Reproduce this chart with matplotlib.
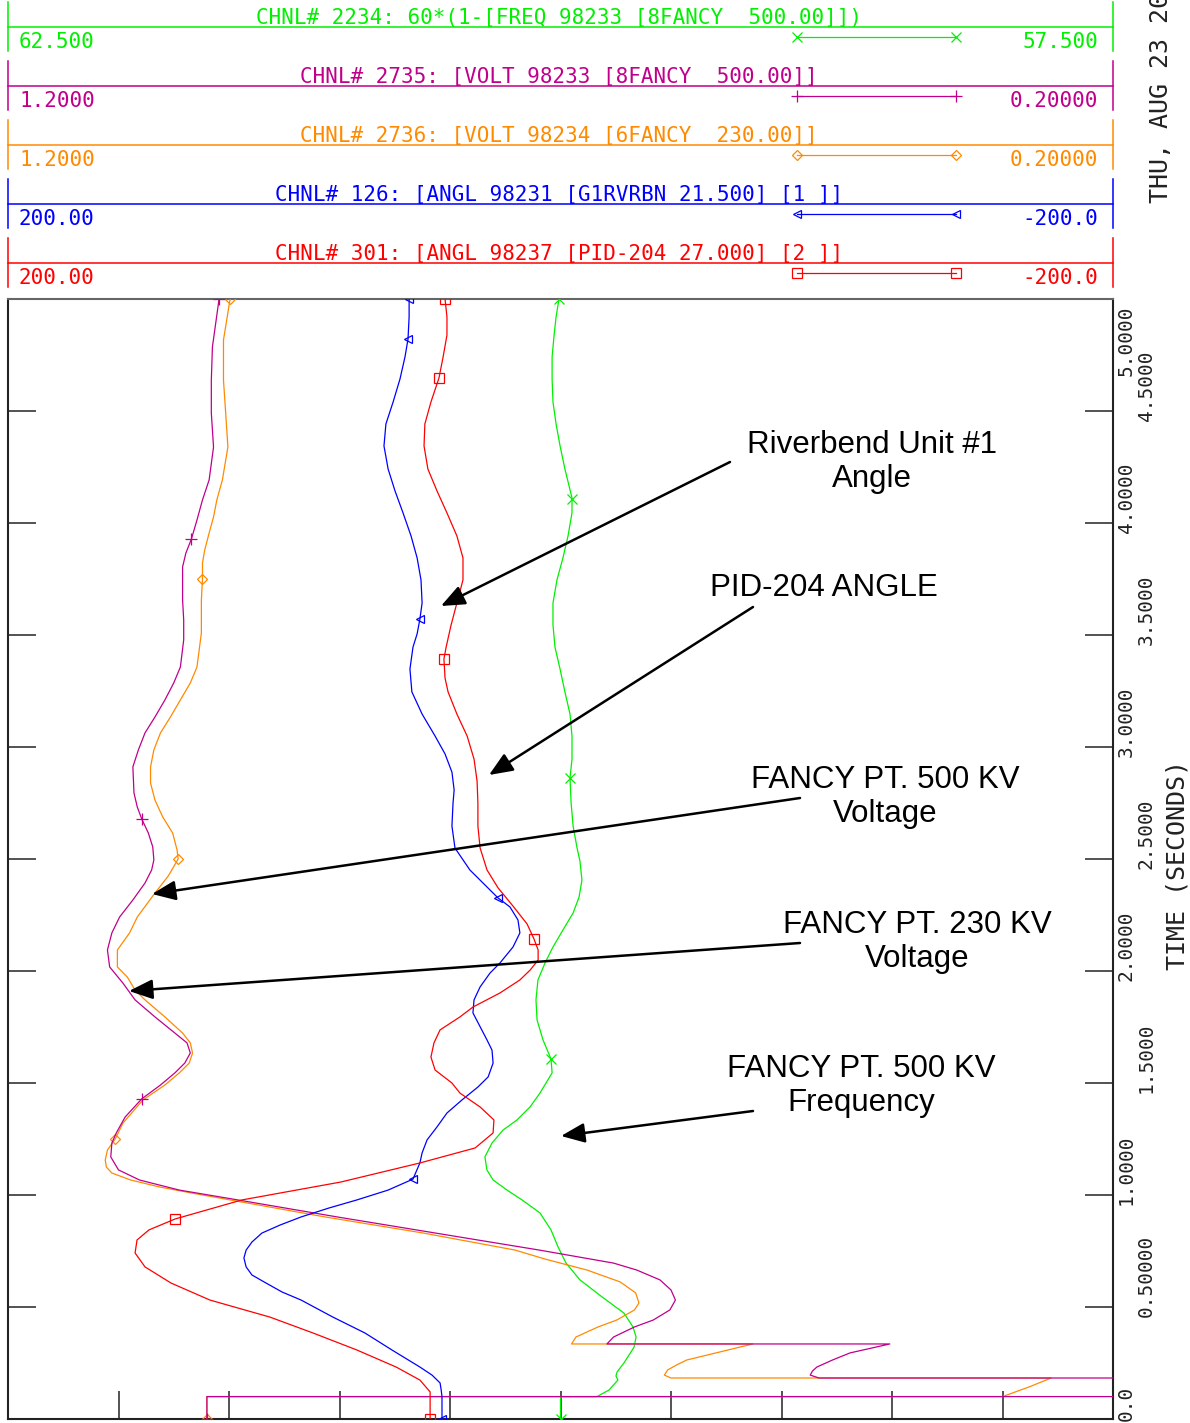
import matplotlib
matplotlib.use("Agg")
import matplotlib.pyplot as plt
from matplotlib import transforms

W, H = 1190, 1423

# ---- simulation channels (time in s, value in channel units) ----
freq_t = [0, 0.1, 0.1, 0.129, 0.174, 0.192, 0.210, 0.25, 0.321, 0.366,
          0.411, 0.473, 0.545, 0.621, 0.696, 0.768, 0.844, 0.920, 0.978, 1.022,
          1.067, 1.112, 1.170, 1.232, 1.290, 1.335, 1.393, 1.455, 1.545, 1.607,
          1.692, 1.781, 1.871, 1.960, 2.036, 2.107, 2.183, 2.259, 2.330, 2.406,
          2.491, 2.549, 2.647, 2.750, 2.862, 2.946, 3.049, 3.147, 3.246, 3.348,
          3.446, 3.545, 3.643, 3.746, 3.844, 3.942, 4.045, 4.112, 4.241, 4.344,
          4.442, 4.540, 4.643, 4.741, 4.839, 4.920, 5.0]
freq_v = [60.0, 60.0, 59.835, 59.781, 59.740, 59.749, 59.744, 59.713, 59.667, 59.658,
          59.672, 59.713, 59.812, 59.912, 59.975, 60.011, 60.043, 60.093, 60.174, 60.242,
          60.305, 60.333, 60.342, 60.310, 60.260, 60.197, 60.138, 60.093, 60.038, 60.043,
          60.079, 60.106, 60.111, 60.102, 60.070, 60.034, 59.989, 59.943, 59.916, 59.903,
          59.912, 59.925, 59.943, 59.952, 59.957, 59.948, 59.948, 59.957, 59.980, 60.002,
          60.025, 60.034, 60.034, 60.016, 59.989, 59.966, 59.948, 59.948, 59.980, 60.002,
          60.020, 60.034, 60.038, 60.038, 60.029, 60.020, 60.007]

v500_t = [0, 0.1, 0.1, 0.183, 0.183, 0.196, 0.214, 0.232, 0.263, 0.295,
          0.335, 0.335, 0.366, 0.411, 0.442, 0.487, 0.531, 0.576, 0.621, 0.665,
          0.696, 0.754, 0.830, 0.902, 0.978, 1.022, 1.067, 1.112, 1.170, 1.232,
          1.277, 1.348, 1.429, 1.491, 1.545, 1.589, 1.634, 1.679, 1.723, 1.795,
          1.871, 1.946, 2.018, 2.094, 2.170, 2.241, 2.317, 2.393, 2.451, 2.496,
          2.554, 2.616, 2.679, 2.732, 2.795, 2.911, 2.987, 3.063, 3.134, 3.210,
          3.286, 3.357, 3.478, 3.567, 3.656, 3.804, 3.866, 3.929, 4.013, 4.103,
          4.192, 4.339, 4.491, 4.638, 4.786, 5.0]
v500_v = [1.02, 1.02, 0.0, 0.0, 0.466, 0.474, 0.472, 0.468, 0.454, 0.438,
          0.402, 0.658, 0.652, 0.633, 0.616, 0.601, 0.596, 0.600, 0.610, 0.631,
          0.652, 0.719, 0.813, 0.902, 0.992, 1.045, 1.081, 1.100, 1.107, 1.106,
          1.102, 1.094, 1.079, 1.062, 1.049, 1.040, 1.035, 1.038, 1.049, 1.067,
          1.085, 1.096, 1.108, 1.110, 1.106, 1.099, 1.087, 1.076, 1.070, 1.068,
          1.069, 1.073, 1.079, 1.083, 1.086, 1.087, 1.082, 1.076, 1.067, 1.058,
          1.050, 1.044, 1.041, 1.041, 1.042, 1.042, 1.039, 1.034, 1.029, 1.024,
          1.018, 1.014, 1.016, 1.016, 1.015, 1.009]

v230_t = [0, 0.1, 0.1, 0.143, 0.183, 0.183, 0.196, 0.219, 0.241, 0.263,
          0.299, 0.335, 0.335, 0.366, 0.411, 0.442, 0.487, 0.518, 0.563, 0.612,
          0.665, 0.714, 0.754, 0.830, 0.902, 0.978, 1.009, 1.036, 1.067, 1.098,
          1.125, 1.156, 1.201, 1.25, 1.321, 1.424, 1.491, 1.545, 1.589, 1.634,
          1.679, 1.723, 1.795, 1.871, 1.915, 1.973, 2.018, 2.094, 2.170, 2.241,
          2.348, 2.424, 2.5, 2.540, 2.616, 2.688, 2.763, 2.839, 2.911, 2.987,
          3.063, 3.134, 3.210, 3.286, 3.357, 3.433, 3.509, 3.656, 3.75, 3.821,
          3.879, 3.955, 4.027, 4.103, 4.192, 4.339, 4.491, 4.638, 4.817, 5.0]
v230_v = [1.02, 1.02, 0.300, 0.276, 0.256, 0.600, 0.606, 0.603, 0.595, 0.586,
          0.556, 0.526, 0.690, 0.686, 0.666, 0.649, 0.633, 0.629, 0.632, 0.646,
          0.676, 0.714, 0.741, 0.824, 0.913, 0.999, 1.034, 1.063, 1.089, 1.106,
          1.111, 1.112, 1.110, 1.103, 1.096, 1.078, 1.058, 1.045, 1.036, 1.033,
          1.035, 1.042, 1.058, 1.076, 1.085, 1.092, 1.101, 1.101, 1.090, 1.083,
          1.067, 1.055, 1.046, 1.047, 1.051, 1.060, 1.067, 1.071, 1.071, 1.068,
          1.062, 1.053, 1.044, 1.035, 1.029, 1.027, 1.025, 1.025, 1.024, 1.024,
          1.022, 1.018, 1.014, 1.011, 1.006, 1.001, 1.003, 1.005, 1.005, 0.999]

ang126_t = [0, 0.1, 0.13, 0.161, 0.196, 0.232, 0.308, 0.384, 0.455, 0.531,
            0.567, 0.607, 0.643, 0.679, 0.719, 0.754, 0.790, 0.830, 0.866, 0.902,
            0.942, 0.978, 1.022, 1.071, 1.143, 1.188, 1.246, 1.304, 1.366, 1.424,
            1.482, 1.527, 1.589, 1.647, 1.692, 1.813, 1.871, 1.929, 1.991, 2.036,
            2.107, 2.170, 2.228, 2.286, 2.326, 2.451, 2.549, 2.647, 2.750, 2.808,
            2.888, 2.969, 3.049, 3.147, 3.246, 3.348, 3.446, 3.505, 3.571, 3.643,
            3.746, 3.844, 3.942, 4.045, 4.143, 4.241, 4.344, 4.442, 4.540, 4.643,
            4.741, 4.821, 4.920, 5.0]
ang126_v = [42.9, 42.9, 43.2, 43.6, 46.5, 50.9, 61.0, 70.8, 82.4, 93.9,
            100.8, 106.6, 111.7, 113.8, 114.6, 113.8, 111.7, 108.1, 101.5, 93.9,
            83.8, 73.7, 62.4, 53.4, 50.9, 50.1, 48.3, 44.7, 41.1, 35.7,
            29.9, 26.2, 24.4, 24.8, 26.6, 31.7, 31.3, 29.1, 25.5, 21.9,
            17.2, 14.7, 15.4, 18.3, 22.6, 32.8, 38.2, 39.3, 38.9, 38.5,
            39.3, 41.8, 45.4, 50.1, 53.8, 54.5, 53.4, 51.9, 50.9, 50.1,
            50.5, 51.9, 54.1, 57.0, 59.9, 62.4, 63.9, 63.2, 60.6, 58.1,
            56.3, 55.2, 54.8, 54.8]

ang301_t = [0, 0.1, 0.121, 0.174, 0.232, 0.308, 0.384, 0.455, 0.531, 0.607,
            0.679, 0.741, 0.799, 0.844, 0.893, 0.978, 1.058, 1.143, 1.210, 1.277,
            1.335, 1.393, 1.455, 1.5, 1.558, 1.616, 1.679, 1.737, 1.795, 1.839,
            1.902, 1.960, 2.004, 2.049, 2.094, 2.143, 2.210, 2.290, 2.371, 2.451,
            2.549, 2.647, 2.750, 2.848, 2.946, 3.049, 3.147, 3.246, 3.308, 3.393,
            3.446, 3.545, 3.643, 3.746, 3.844, 3.942, 4.045, 4.143, 4.241, 4.344,
            4.442, 4.540, 4.647, 4.741, 4.839, 4.920, 5.0]
ang301_v = [47.2, 47.2, 47.2, 50.9, 59.5, 73.7, 89.6, 105.2, 126.9, 141.0,
            150.4, 154.0, 153.3, 149.0, 139.5, 115.3, 79.5, 50.9, 30.9, 24.4,
            24.1, 29.1, 36.4, 39.3, 45.4, 46.9, 45.8, 43.6, 36.4, 31.7,
            21.9, 14.7, 11.0, 8.1, 8.1, 9.6, 12.1, 17.2, 22.6, 26.6,
            29.1, 29.9, 29.9, 30.2, 31.3, 33.8, 37.5, 40.7, 41.8, 42.2,
            41.4, 39.6, 37.5, 35.3, 35.3, 37.5, 41.1, 44.7, 48.0, 49.4,
            49.1, 46.9, 44.0, 42.5, 41.1, 41.1, 41.8]

# symbol points along each trace
freq_mt = [0, 1.607, 2.862, 4.107, 5.0]
freq_mv = [60.0, 60.043, 59.957, 59.948, 60.007]
v500_mt = [0, 1.429, 2.679, 3.929, 5.0]
v500_mv = [1.02, 1.079, 1.079, 1.034, 1.009]
v230_mt = [0, 1.25, 2.5, 3.75, 5.0]
v230_mv = [1.02, 1.103, 1.046, 1.024, 0.999]
ang126_mt = [0, 1.071, 2.326, 3.571, 4.821, 5.0]
ang126_mv = [42.9, 53.4, 22.6, 50.9, 55.2, 54.8]
ang301_mt = [0, 0.893, 2.143, 3.393, 4.647, 5.0]
ang301_mv = [47.2, 139.5, 9.6, 42.2, 44.0, 41.8]

chan_titles = ["CHNL# 2234: 60*(1-[FREQ 98233 [8FANCY  500.00]])",
               "CHNL# 2735: [VOLT 98233 [8FANCY  500.00]]",
               "CHNL# 2736: [VOLT 98234 [6FANCY  230.00]]",
               "CHNL# 126: [ANGL 98231 [G1RVRBN 21.500] [1 ]]",
               "CHNL# 301: [ANGL 98237 [PID-204 27.000] [2 ]]"]
chan_left = [62.5, 1.2, 1.2, 200.0, 200.0]
chan_right = [57.5, 0.2, 0.2, -200.0, -200.0]
left_labels = ["62.500", "1.2000", "1.2000", "200.00", "200.00"]
right_labels = ["57.500", "0.20000", "0.20000", "-200.0", "-200.0"]

time_ticks = [0.0, 0.5, 1.0, 1.5, 2.0, 2.5, 3.0, 3.5, 4.0, 4.5, 5.0]
time_labels = ["0.0", "0.50000", "1.0000", "1.5000", "2.0000", "2.5000",
               "3.0000", "3.5000", "4.0000", "4.5000", "5.0000"]

notes = ["Riverbend Unit #1\nAngle", "PID-204 ANGLE", "FANCY PT. 500 KV\nVoltage",
         "FANCY PT. 230 KV\nVoltage", "FANCY PT. 500 KV\nFrequency"]

# ---- styles ----
colors = ["#00f000", "#c0008c", "#ff8a00", "#0000ff", "#ff0000"]
markers = ["x", "+", "D", "<", "s"]
msizes = [7, 8, 5, 6, 7]
series = [(freq_t, freq_v, freq_mt, freq_mv),
          (v500_t, v500_v, v500_mt, v500_mv),
          (v230_t, v230_v, v230_mt, v230_mv),
          (ang126_t, ang126_v, ang126_mt, ang126_mv),
          (ang301_t, ang301_v, ang301_mt, ang301_mv)]
draw_order = [0, 2, 1, 3, 4]   # 500 kV voltage drawn over the 230 kV one
mono = "DejaVu Sans Mono"

fig = plt.figure(figsize=(W / 100, H / 100), dpi=100)

# main plot box: x 8..1113 px, y 299..1419 px
ax = fig.add_axes([8 / W, 1 - 1419 / H, 1105 / W, 1120 / H])
ax.set_ylim(0, 5)
ax.set_xlim(0, 10)
ax.set_xticks(range(1, 10))
ax.set_yticks(time_ticks[1:-1])
ax.tick_params(axis="both", direction="in", length=20, width=1.3, color="#444444",
               top=True, bottom=True, left=True, right=True,
               labelbottom=False, labelleft=False)
for side, sp in ax.spines.items():
    sp.set_linewidth(1.5)
    sp.set_color("#666666" if side == "top" else "#222222")

# one overlaid x-scale per channel, like the original stacked scales
for i in draw_order:
    t, v, mt, mv = series[i]
    tw = ax.twiny()
    tw.set_xlim(chan_left[i], chan_right[i])
    tw.set_axis_off()
    tw.plot(v, t, color=colors[i], lw=0.9)
    tw.plot(mv, mt, ls="none", marker=markers[i], ms=msizes[i], mec=colors[i],
            mfc="none", mew=0.9)

# right-side time labels, staggered in two columns
tick_tr = transforms.blended_transform_factory(ax.transAxes, ax.transData)
for k, (tv, lab) in enumerate(zip(time_ticks, time_labels)):
    xcol = 1.0118 if k % 2 == 0 else 1.0299
    if tv == 5.0:
        tr, va = transforms.offset_copy(tick_tr, fig=fig, y=-6, units="dots"), "top"
    elif tv == 0.0:
        tr, va = transforms.offset_copy(tick_tr, fig=fig, y=-2, units="dots"), "bottom"
    else:
        tr, va = transforms.offset_copy(tick_tr, fig=fig, y=-10, units="dots"), "bottom"
    ax.text(xcol, tv, lab, transform=tr, rotation=90, ha="center", va=va,
            family=mono, fontsize=14, color="#222222")

# overlay in pixel coordinates for the headers and call-outs
ov = fig.add_axes([0, 0, 1, 1], zorder=10)
ov.set_xlim(0, W)
ov.set_ylim(H, 0)
ov.set_axis_off()

for i in range(5):
    o = 59 * i
    c = colors[i]
    ov.plot([8, 8], [o + 2, o + 51], color=c, lw=1.1)
    ov.plot([1113, 1113], [o + 2, o + 51], color=c, lw=1.1)
    ov.plot([8, 1113], [o + 27, o + 27], color=c, lw=1.1)
    ov.text(559, o + 24, chan_titles[i], ha="center", va="baseline", family=mono,
            fontsize=15, color=c)
    ov.text(19, o + 48, left_labels[i], ha="left", va="baseline", family=mono,
            fontsize=15, color=c)
    ov.text(1098, o + 48, right_labels[i], ha="right", va="baseline", family=mono,
            fontsize=15, color=c)
    ov.plot([797, 956], [o + 37, o + 37], color=c, lw=0.9, marker=markers[i],
            ms=msizes[i], mec=c, mfc="none", mew=0.9)

ov.text(1161, 203, "THU, AUG 23 2007", rotation=90, ha="center", va="bottom",
        family=mono, fontsize=18, color="#222222")
ov.text(1178, 865, "TIME (SECONDS)", rotation=90, ha="center", va="center",
        family=mono, fontsize=18, color="#222222")

text_pos = [(872, 462), (824, 588), (885, 797), (917, 942), (861, 1086)]
tails = [(730, 462), (753, 607), (800, 798), (800, 943), (753, 1111)]
heads = [(441, 606), (489, 775), (152, 894), (129, 991), (561, 1136)]
for note, tp, a, b in zip(notes, text_pos, tails, heads):
    ov.text(tp[0], tp[1], note, ha="center", va="center", multialignment="center",
            family="Liberation Sans", fontsize=22.5, color="black", linespacing=1.15)
    ov.annotate("", xy=b, xytext=a,
                arrowprops=dict(arrowstyle="-|>,head_length=0.6,head_width=0.25",
                                mutation_scale=24, lw=1.8, color="black",
                                shrinkA=0, shrinkB=0))

fig.savefig("out.png", dpi=100)
